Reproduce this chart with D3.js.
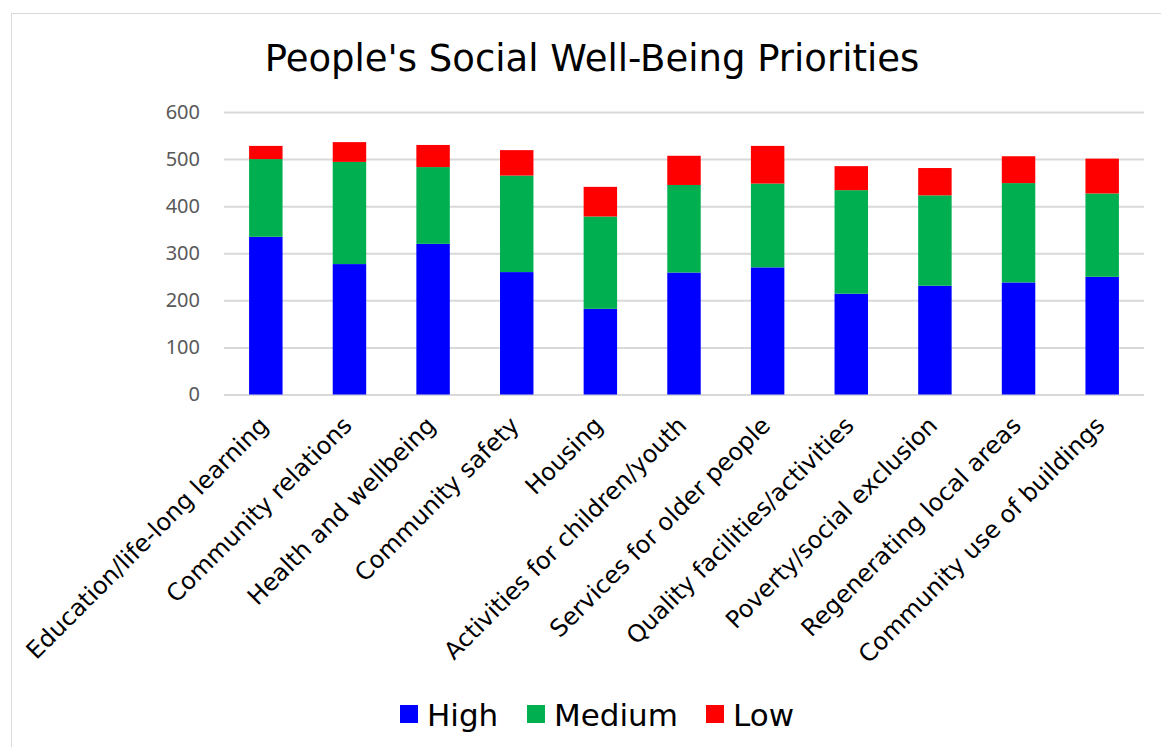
<!DOCTYPE html>
<html><head><meta charset="utf-8">
<script src="https://cdn.jsdelivr.net/npm/d3@7"></script>
<style>body{margin:0;background:#fff}svg{display:block}</style>
</head><body>
<svg id="c" width="1161" height="747"></svg>
<script>
const categories = ["Education/life-long learning","Community relations","Health and wellbeing","Community safety","Housing","Activities for children/youth","Services for older people","Quality facilities/activities","Poverty/social exclusion","Regenerating local areas","Community use of buildings"];
const high = [335,277,320,260,182,259,270,214,231,238,250];
const medium = [165,217,163,205,196,186,178,220,192,211,177];
const low = [28,42,47,54,63,62,80,51,58,57,74];
const seriesNames = ["High","Medium","Low"];
const seriesColors = ["#0000FF","#00B050","#FF0000"];
const yTicks = [0,100,200,300,400,500,600];

const svg = d3.select("#c");
svg.append("rect").attr("x",11.5).attr("y",13.5).attr("width",1200).attr("height",800)
  .attr("fill","#fff").attr("stroke","#d9d9d9").attr("stroke-width",1);

const x = d3.scaleBand().domain(categories).range([224,1144]).paddingInner(0.6).paddingOuter(0.3);
const y = d3.scaleLinear().domain([0,600]).range([394.5,112]);

svg.append("text").attr("x",592).attr("y",71).attr("text-anchor","middle")
  .attr("font-family","DejaVu Sans").attr("font-size",37).attr("fill","#000")
  .text("People's Social Well-Being Priorities");

const yAxis = svg.append("g").attr("transform","translate(224,0)")
  .call(d3.axisLeft(y).tickValues(yTicks).tickSize(-920).tickPadding(24));
yAxis.select(".domain").remove();
yAxis.selectAll(".tick line").attr("stroke","#d9d9d9").attr("stroke-width",2);
yAxis.selectAll(".tick text").attr("font-family","Noto Sans").attr("font-size",20).attr("fill","#595959");

const rows = categories.map((c,i)=>({cat:c,High:high[i],Medium:medium[i],Low:low[i]}));
const stack = d3.stack().keys(seriesNames)(rows);
svg.append("g").selectAll("g").data(stack).join("g")
  .attr("fill",(d,i)=>seriesColors[i])
  .selectAll("rect").data(d=>d).join("rect")
  .attr("x",d=>x(d.data.cat)).attr("width",x.bandwidth())
  .attr("y",d=>y(d[1])).attr("height",d=>y(d[0])-y(d[1]));

svg.append("g").selectAll("text").data(categories).join("text")
  .attr("transform",d=>`translate(${x(d)+x.bandwidth()/2-2},421) rotate(-45)`)
  .attr("text-anchor","end").attr("dy","0.35em")
  .attr("font-family","DejaVu Sans").attr("font-size",24).attr("fill","#000")
  .text(d=>d);

const legX = [400,527,706];
const leg = svg.append("g").selectAll("g").data(seriesNames).join("g")
  .attr("transform",(d,i)=>`translate(${legX[i]},705)`);
leg.append("rect").attr("width",18).attr("height",18).attr("fill",(d,i)=>seriesColors[i]);
leg.append("text").attr("x",27).attr("y",21).attr("font-family","DejaVu Sans").attr("font-size",31)
  .attr("fill","#000").text(d=>d);
</script>
</body></html>
